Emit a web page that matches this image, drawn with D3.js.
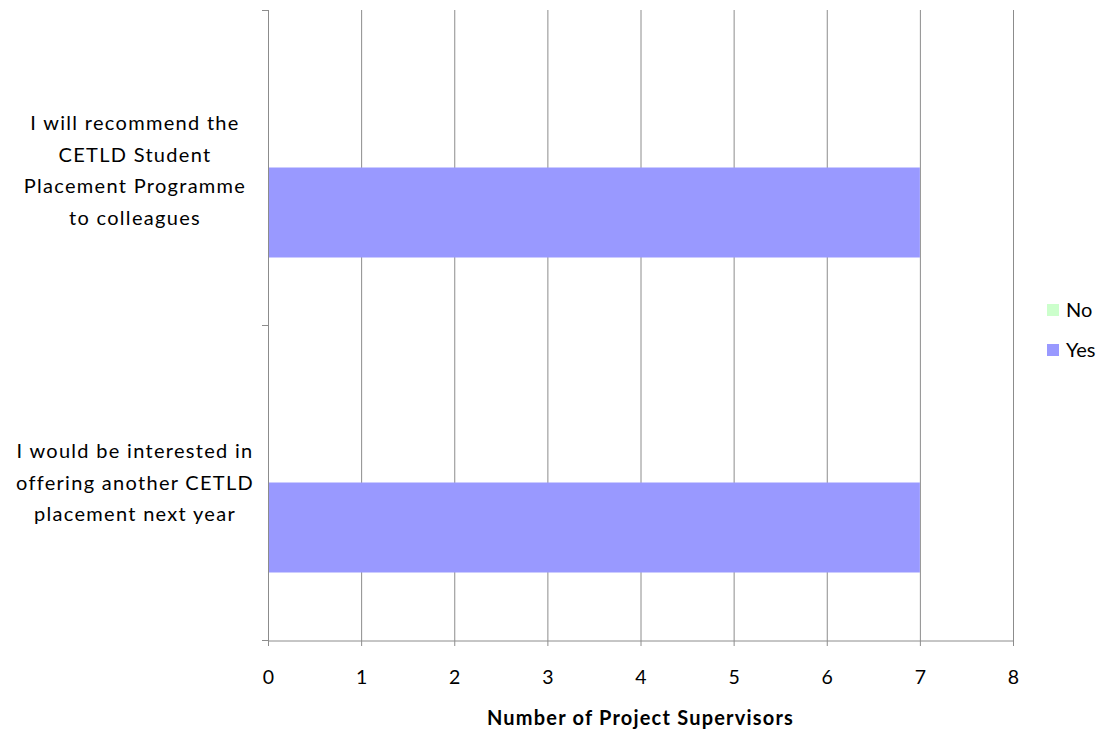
<!DOCTYPE html>
<html>
<head>
<meta charset="utf-8">
<script src="https://cdn.jsdelivr.net/npm/d3@7"></script>
<style>
  html, body { margin: 0; padding: 0; background: #fff; }
  svg { display: block; font-family: Lato, "Open Sans", sans-serif; }
</style>
</head>
<body>
<svg id="chart" width="1104" height="734"></svg>
<script>
// Survey statements, listed top to bottom
const categories = [
  ["I will recommend the", "CETLD Student", "Placement Programme", "to colleagues"],
  ["I would be interested in", "offering another CETLD", "placement next year"]
];
const categoryKeys = ["recommend", "offerAgain"];
const seriesNames = ["No", "Yes"];
const noValues = [0, 0];
const yesValues = [7, 7];
const xTicks = [0, 1, 2, 3, 4, 5, 6, 7, 8];
const seriesColors = ["#CCFFCC", "#9999FF"];

const svg = d3.select("#chart");
const margin = { left: 268, right: 91, top: 10, bottom: 94 };
const W = 1104, H = 734;
const plotW = W - margin.left - margin.right;
const plotH = H - margin.top - margin.bottom;

const g = svg.append("g").attr("transform", `translate(${margin.left},${margin.top})`);

const x = d3.scaleLinear().domain([0, 8]).range([0, plotW]);
const y = d3.scaleBand().domain(categoryKeys).range([0, plotH]).paddingInner(0).paddingOuter(0);
// gap width 150% of a bar: two bars per group
const inner = d3.scaleBand().domain(seriesNames).range([0, y.bandwidth()]).paddingInner(0).paddingOuter(0.75);

// vertical gridlines
g.selectAll("line.grid").data(xTicks.slice(1)).join("line")
  .attr("class", "grid")
  .attr("x1", d => x(d) + 0.5).attr("x2", d => x(d) + 0.5)
  .attr("y1", 0).attr("y2", plotH)
  .attr("stroke", "#8c8c8c").attr("stroke-width", 1);

// bars
const series = [noValues, yesValues];
seriesNames.forEach((name, si) => {
  g.selectAll(`rect.s${si}`).data(categoryKeys).join("rect")
    .attr("class", `s${si}`)
    .attr("x", x(0))
    .attr("y", k => y(k) + inner(name))
    .attr("width", (k, i) => x(series[si][i]) - x(0))
    .attr("height", inner.bandwidth())
    .attr("fill", seriesColors[si]);
});

// x axis
const xAxis = g.append("g").attr("transform", `translate(0,${plotH})`)
  .call(d3.axisBottom(x).tickValues(xTicks).tickSize(6).tickPadding(24).tickSizeOuter(0));
xAxis.select(".domain").attr("stroke", "#8c8c8c").attr("transform", "translate(0,0.5)");
xAxis.selectAll(".tick line").attr("stroke", "#8c8c8c");
xAxis.selectAll(".tick text").attr("font-size", 19.5).attr("fill", "#000")
  .attr("font-family", "Lato, sans-serif");

// y axis: line with ticks at category boundaries
const yAxisG = g.append("g");
yAxisG.append("line").attr("x1", 0.5).attr("x2", 0.5).attr("y1", 0).attr("y2", plotH)
  .attr("stroke", "#8c8c8c");
const boundaries = [0, y.step(), plotH];
yAxisG.selectAll("line.yt").data(boundaries).join("line")
  .attr("class", "yt")
  .attr("x1", -6).attr("x2", 0).attr("y1", d => d + 0.5).attr("y2", d => d + 0.5)
  .attr("stroke", "#8c8c8c");

// category labels
const lineH = 31.5;
categoryKeys.forEach((k, i) => {
  const lines = categories[i];
  const cy = y(k) + y.bandwidth() / 2 + (i === 0 ? 3 : 0);
  const t = g.append("text")
    .attr("text-anchor", "middle")
    .attr("font-size", 20)
    .attr("letter-spacing", 1.3)
    .attr("fill", "#000");
  lines.forEach((ln, j) => {
    t.append("tspan")
      .attr("x", -133)
      .attr("y", cy + (j - (lines.length - 1) / 2) * lineH)
      .attr("dy", "0.35em")
      .text(ln);
  });
});

// axis title
svg.append("text")
  .attr("x", margin.left + plotW / 2).attr("y", 718).attr("dy", "0.35em")
  .attr("text-anchor", "middle").attr("font-weight", "bold").attr("font-size", 20)
  .attr("letter-spacing", 1.2)
  .attr("fill", "#000")
  .text("Number of Project Supervisors");

// legend
const legend = svg.append("g");
seriesNames.forEach((name, i) => {
  const ly = 310 + i * 40;
  legend.append("rect").attr("x", 1047).attr("y", ly - 6).attr("width", 12).attr("height", 12)
    .attr("fill", seriesColors[i]);
  legend.append("text").attr("x", 1066).attr("y", ly).attr("dy", "0.35em")
    .attr("font-size", 20).attr("fill", "#000").text(name);
});
</script>
</body>
</html>
